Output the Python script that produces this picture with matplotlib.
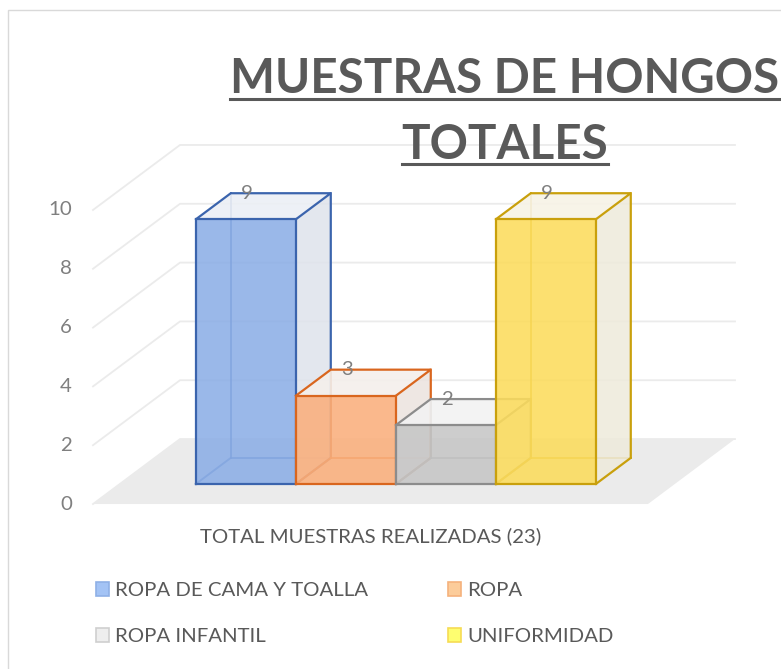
import matplotlib.pyplot as plt
from matplotlib.patches import Polygon, Patch, Rectangle
from matplotlib.lines import Line2D

# data
categories = ["ROPA DE CAMA Y TOALLA", "ROPA", "ROPA INFANTIL", "UNIFORMIDAD"]
values = [9, 3, 2, 9]
y_ticks = [0, 2, 4, 6, 8, 10]
axis_label = "TOTAL MUESTRAS REALIZADAS (23)"
title_lines = ["MUESTRAS DE HONGOS", "TOTALES"]

# colours (excel 3d style)
front_colors = ["#8caee6", "#faaf7c", "#c6c6c6", "#fcdc5c"]
edge_colors = ["#3b64ad", "#d9661e", "#8c8c8c", "#c9a00c"]
top_colors = ["#eceff5", "#f4efeb", "#f2f2f2", "#f7f3e6"]
side_colors = ["#dfe3ec", "#ece3df", "#e6e6e6", "#eeeadb"]
legend_fill = ["#a3c3f5", "#fccc9a", "#eeeeee", "#fefe70"]
legend_edge = ["#8fb0e6", "#f5b27d", "#cfcfcf", "#f6dc55"]

plt.rcParams['font.family'] = ['Lato', 'DejaVu Sans']

fig = plt.figure(figsize=(7.81, 6.69), dpi=100)
ax = fig.add_axes([0, 0, 1, 1])
ax.set_xlim(-1.69, 6.12)
ax.set_ylim(-5.61, 17.14)
ax.axis('off')

# oblique projection: depth d goes 0 (front) .. 1 (back wall)
DX, DV = 0.87, 2.21


def proj(x, v, d):
    return (x + d * DX, v + d * DV)


floor_x0, floor_x1 = -0.76, 4.79

# floor
floor = Polygon([proj(floor_x0, 0, 0), proj(floor_x1, 0, 0),
                 proj(floor_x1, 0, 1), proj(floor_x0, 0, 1)],
                closed=True, facecolor="#ebebeb", edgecolor="none", zorder=1)
ax.add_patch(floor)

# gridlines on side and back wall
for t in y_ticks:
    pts = [proj(floor_x0, t, 0), proj(floor_x0, t, 1), proj(floor_x1, t, 1)]
    ax.plot([p[0] for p in pts], [p[1] for p in pts], color="#ebebeb", lw=1.3, zorder=2)
    ax.text(floor_x0 - 0.21, t, str(t), ha='right', va='center',
            fontsize=14.7, color="#7f7f7f")

# bars
d0, d1 = 0.31, 0.71
for i, v in enumerate(values):
    z = 3 + i * 5
    ec = edge_colors[i]
    FBL, FBR = proj(i, 0, d0), proj(i + 1, 0, d0)
    FTL, FTR = proj(i, v, d0), proj(i + 1, v, d0)
    BBL, BBR = proj(i, 0, d1), proj(i + 1, 0, d1)
    BTL, BTR = proj(i, v, d1), proj(i + 1, v, d1)

    # hidden edges seen through the transparent faces
    for a, b in [(BTL, BBL), (BBL, BBR), (BBL, FBL)]:
        ax.plot([a[0], b[0]], [a[1], b[1]], color=ec, lw=1.4, alpha=0.8, zorder=z)

    ax.add_patch(Polygon([FBR, BBR, BTR, FTR], closed=True, facecolor=side_colors[i],
                         edgecolor="none", alpha=0.85, zorder=z + 1))
    ax.add_patch(Polygon([FTL, FTR, BTR, BTL], closed=True, facecolor=top_colors[i],
                         edgecolor="none", alpha=0.9, zorder=z + 1))
    ax.add_patch(Polygon([FBL, FBR, FTR, FTL], closed=True, facecolor=front_colors[i],
                         edgecolor="none", alpha=0.88, zorder=z + 2))

    # visible outline
    for path in [[FBL, FBR, FTR, FTL, FBL], [FTL, BTL, BTR, FTR], [BTR, BBR, FBR]]:
        ax.plot([p[0] for p in path], [p[1] for p in path], color=ec, lw=1.6,
                solid_joinstyle='miter', zorder=z + 3)

    lx, ly = proj(i + 0.16, v, d1)
    ax.text(lx, ly, str(v), ha='center', va='center', fontsize=14.7,
            color="#7f7f7f", zorder=30)

# category axis label
ax.text((floor_x0 + floor_x1) / 2, -1.09, axis_label, ha='center', va='center',
        fontsize=14.7, color="#595959")

# legend (column-wise fill, so reorder to get rows like excel)
order = [0, 2, 1, 3]
handles = [Patch(facecolor=legend_fill[k], edgecolor=legend_edge[k], lw=1.2) for k in order]
labels = [categories[k] for k in order]
ax.legend(handles, labels, loc='upper left', bbox_to_anchor=(96 / 781, 1 - 582 / 669),
          ncol=2, frameon=False, fontsize=14.7, labelcolor="#595959",
          handlelength=0.62, handleheight=0.68, handletextpad=0.3,
          columnspacing=3.95, labelspacing=1.42, borderpad=0, borderaxespad=0)

# title with underline
title_y = [93, 159]
under_y = [99, 164]
fig.canvas.draw()
renderer = fig.canvas.get_renderer()
for line, ty, uy in zip(title_lines, title_y, under_y):
    t = fig.text(505 / 781, 1 - ty / 669, line, ha='center', va='baseline',
                 fontsize=34.2, fontweight='bold', color="#595959")
    bb = t.get_window_extent(renderer=renderer).transformed(fig.transFigure.inverted())
    fig.add_artist(Line2D([bb.x0, bb.x1], [1 - uy / 669, 1 - uy / 669],
                          transform=fig.transFigure, color="#595959", lw=2.2))

# chart area border
fig.add_artist(Rectangle((8 / 781, -0.1), 1.2, 1.1 - 10 / 669, transform=fig.transFigure,
                         facecolor="none", edgecolor="#d9d9d9", lw=1))

plt.savefig("out.png", dpi=100)
